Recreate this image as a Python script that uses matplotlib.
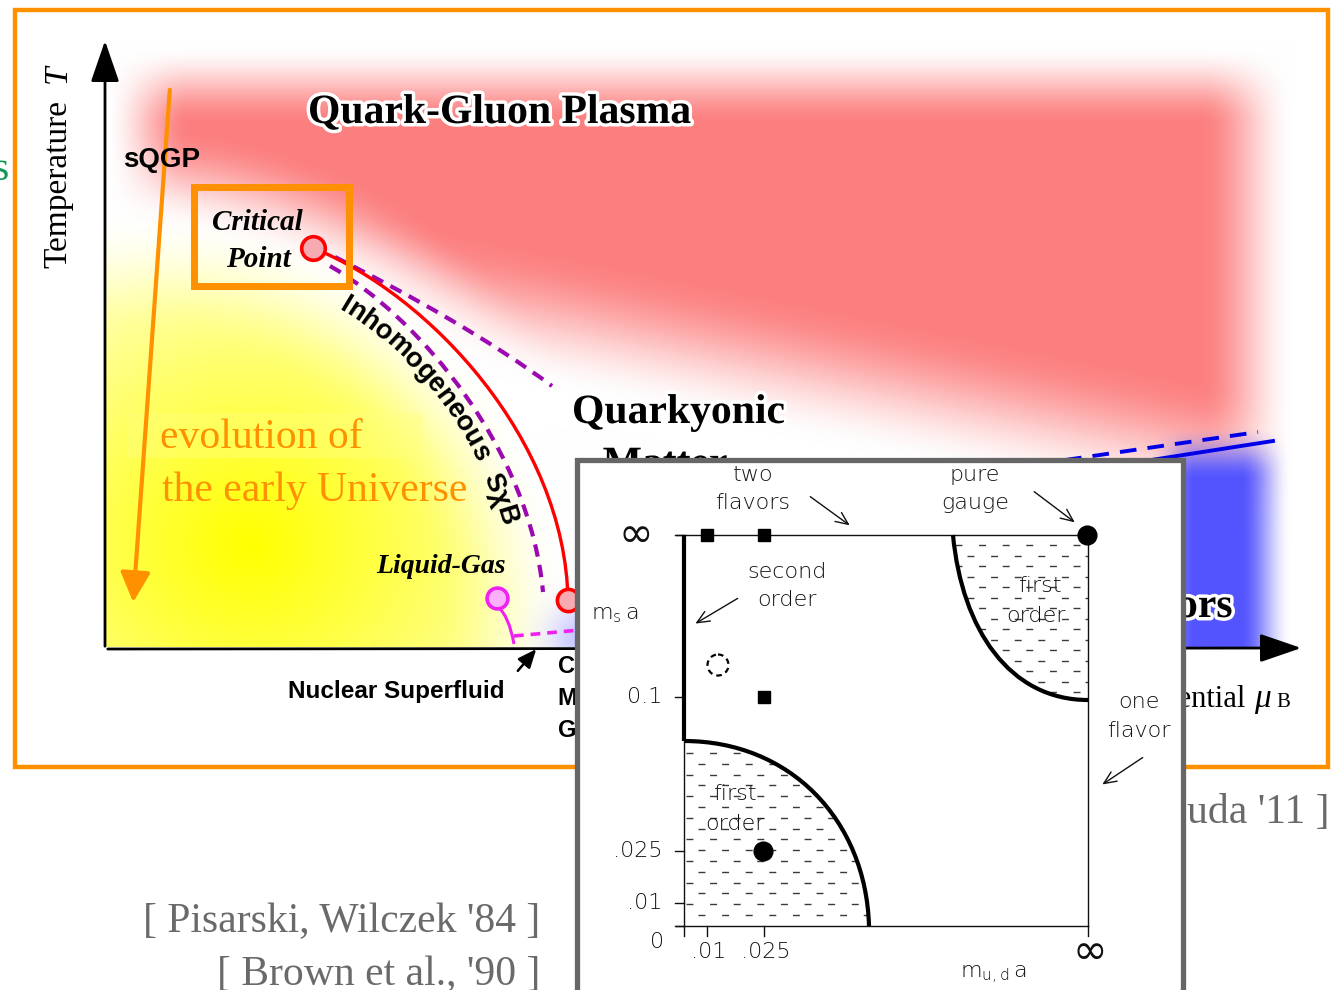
import numpy as np
import matplotlib.pyplot as plt
import matplotlib.patheffects as pe
from matplotlib.path import Path
from matplotlib.patches import PathPatch, Rectangle, Circle, FancyArrowPatch
from matplotlib.bezier import BezierSegment
from matplotlib.font_manager import FontProperties

plt.rcParams['lines.scale_dashes'] = False

W, H = 1334, 990

# ---- QCD phase diagram, drawn in pixel units (y grows downward) ----
origin = (105, 648)
t_axis_top = 38
mu_axis_end = 1304

crit_point = (313, 248)
chiral_line = [(313, 248), (430, 295), (565, 440), (568, 600)]
inhom_inner = [(330, 266), (420, 318), (530, 450), (543, 592)]
inhom_outer = [(335, 257), (410, 295), (490, 340), (552, 386)]
quarkyonic_end = (568, 600)
lg_point = (497, 598)
lg_line = [(498, 607), (509, 616), (514, 644)]
lg_dashed = [(514, 636), (580, 630)]
csc_solid = [(1100, 468), (1273, 441)]
csc_dashed = [(1010, 468), (1258, 432)]
universe_arrow = [(170, 87), (133, 605)]
crit_box = [(194, 187), (349, 286)]
superfluid_arrow = [(516, 673), (538, 647)]
label_baseline = [(338, 309), (408, 350), (478, 430), (505, 540)]

# ---- Columbia plot (inset) ----
col_left, col_right, col_top, col_bottom = 684, 1088, 535, 926
second_order_edge = [(684, 535), (684, 741)]
lower_first_order = [(684, 741), (790, 741), (866, 820), (869, 926)]
upper_first_order = [(953, 535), (962, 630), (1010, 700), (1088, 700)]
ms_tick_pos = [535, 697, 851, 903, 926]
ms_tick_lab = ['∞', '0.1', '.025', '.01', '0']
mud_tick_pos = [684, 707, 764, 1088]
mud_tick_lab = ['', '.01', '.025', '∞']
lattice_squares = [(707, 535), (764, 535), (764, 697)]
lattice_dots = [(763, 851), (1087, 535)]
open_point = (718, 665)

orange = '#ff9000'


def ramp(a, b, v):
    t = np.clip((v - a) / (b - a), 0, 1)
    return t * t * (3 - 2 * t)


def bez(ctrl):
    return Path(ctrl, [Path.MOVETO, Path.CURVE4, Path.CURVE4, Path.CURVE4])


fig = plt.figure(figsize=(W / 100, H / 100), dpi=100)
ax = fig.add_axes([0, 0, 1, 1])
ax.set_xlim(0, W)
ax.set_ylim(H, 0)
ax.axis('off')

# soft coloured background: QGP (red), hadrons (yellow), CSC (blue)
yy, xx = np.mgrid[0:H, 0:W] + 0.5
ell = ((xx - 115) / 455.0) ** 2 + ((yy - 640) / 435.0) ** 2
yb = 330 + 0.2 * (xx - 700)
w_red = (ramp(45, 125, yy) * ramp(104, 190, xx) * (1 - ramp(1200, 1295, xx))
         * (1 - ramp(yb - 50, yb + 90, yy)) * ramp(0.88, 1.4, ell))
d = np.sqrt(((xx - 250) / 300.0) ** 2 + ((yy - 545) / 280.0) ** 2)
w_yel = np.clip(1 - d / 1.3, 0, 1) ** 0.8 * (1 - ramp(0.5, 1.02, ell))
w_blue = ramp(1150, 1195, xx) * (1 - ramp(1240, 1292, xx)) * ramp(425, 480, yy)
w_blue += 0.35 * np.exp(-((xx - 585) ** 2 + (yy - 640) ** 2) / (2 * 25.0 ** 2))
inside = ((xx >= 106) & (yy <= 647)).astype(float)

img = np.ones((H, W, 3))
for w, c in [(w_red, (0.99, 0.50, 0.50)), (w_yel, (1.0, 1.0, 0.0)), (w_blue, (0.33, 0.33, 1.0))]:
    w = (np.clip(w, 0, 1) * inside)[..., None]
    img = img * (1 - w) + np.array(c) * w
ax.imshow(img, extent=(0, W, H, 0), zorder=0, interpolation='bilinear')

# highlight behind the orange label
ax.add_patch(Rectangle((128, 413), 295, 45, fc='#ffff80', ec='none', alpha=0.4, zorder=1))

# axes
for end in [(origin[0], t_axis_top), (mu_axis_end, origin[1])]:
    ax.add_patch(FancyArrowPatch((origin[0], origin[1] + 1), end,
                                 arrowstyle='-|>,head_length=1.6,head_width=0.55', mutation_scale=16,
                                 lw=2, color='black', zorder=3))

# phase boundaries
ax.add_patch(PathPatch(bez(inhom_inner), fc='none', ec='#9a0ab0', lw=3, ls=(0, (9, 6)), zorder=4))
ax.add_patch(PathPatch(bez(inhom_outer), fc='none', ec='#9a0ab0', lw=3, ls=(0, (9, 6)), zorder=4))
ax.add_patch(PathPatch(bez(chiral_line), fc='none', ec='red', lw=2.4, zorder=4))
lg_path = Path(lg_line, [Path.MOVETO, Path.CURVE3, Path.CURVE3])
ax.add_patch(PathPatch(lg_path, fc='none', ec='#f020f0', lw=2.2, zorder=4))
ax.plot(*zip(*lg_dashed), color='#f020f0', lw=2.6, ls=(0, (7, 5)), zorder=4)
ax.plot(*zip(*csc_solid), color='#0000e8', lw=2.8, zorder=4)
ax.plot(*zip(*csc_dashed), color='#0000e8', lw=2.8, ls=(0, (12, 8)), zorder=4)

ax.plot(*crit_point, 'o', ms=17, mfc='#f7aab2', mec='red', mew=2.6, zorder=5)
ax.plot(*quarkyonic_end, 'o', ms=16, mfc='#f7aab2', mec='red', mew=2.6, zorder=5)
ax.plot(*lg_point, 'o', ms=15, mfc='#fab0fa', mec='#f020f0', mew=2.6, zorder=5)

# evolution of the early Universe
ax.add_patch(FancyArrowPatch(*universe_arrow, arrowstyle='-|>,head_length=1.4,head_width=0.7',
                             mutation_scale=13, lw=3, color=orange, zorder=5))
ax.add_patch(Rectangle(crit_box[0], crit_box[1][0] - crit_box[0][0], crit_box[1][1] - crit_box[0][1],
                       fc='none', ec=orange, lw=5, zorder=5))

serif = 'Liberation Serif'
sans = 'Liberation Sans'
glow = [pe.withStroke(linewidth=5, foreground='white')]

ax.text(308, 123, 'Quark-Gluon Plasma', family=serif, weight='bold', fontsize=30,
        va='baseline', zorder=6, path_effects=glow)
ax.text(123, 167, 'sQGP', family=sans, weight='bold', fontsize=20, va='baseline', zorder=6)
ax.text(58, 268, 'Temperature', family=serif, fontsize=24, rotation=90, ha='center',
        va='bottom', zorder=6)
ax.text(58, 74, 'T', family=serif, style='italic', fontsize=24, rotation=90, ha='center',
        va='center', zorder=6)
ax.text(257, 230, 'Critical', family=serif, weight='bold', style='italic', fontsize=21,
        ha='center', va='baseline', zorder=6)
ax.text(258, 267, 'Point', family=serif, weight='bold', style='italic', fontsize=21,
        ha='center', va='baseline', zorder=6)
ax.text(441, 573, 'Liquid-Gas', family=serif, weight='bold', style='italic', fontsize=20,
        ha='center', va='baseline', zorder=6)
ax.text(396, 698, 'Nuclear Superfluid', family=sans, weight='bold', fontsize=17.5,
        ha='center', va='baseline', zorder=6)
ax.add_patch(FancyArrowPatch(*superfluid_arrow, arrowstyle='-|>,head_length=1.4,head_width=0.6',
                             mutation_scale=8, lw=1.8, color='black', zorder=6))
ax.text(160, 448, 'evolution of', family=serif, fontsize=30, color=orange, va='baseline', zorder=6)
ax.text(162, 501, 'the early Universe', family=serif, fontsize=30, color=orange,
        va='baseline', zorder=6)
ax.text(572, 423, 'Quarkyonic', family=serif, weight='bold', fontsize=30, va='baseline',
        zorder=6, path_effects=glow)
ax.text(665, 475, 'Matter', family=serif, weight='bold', fontsize=30, ha='center',
        va='baseline', zorder=6, path_effects=glow)
ax.text(1232, 617, 'Color Superconductors', family=serif, weight='bold', fontsize=30,
        ha='right', va='baseline', zorder=6, path_effects=glow)
for y, word in zip([673, 705, 737], ['CFL', 'Meson cond.', 'Gapless']):
    ax.text(558, y, word, family=sans, weight='bold', fontsize=17, va='baseline', zorder=6)
ax.text(1245, 707, 'Baryon Chemical Potential', family=serif, fontsize=22, ha='right',
        va='baseline', zorder=6)
ax.text(1254, 707, 'μ', family=serif, style='italic', fontsize=24, va='baseline', zorder=6)
ax.text(1276, 707, 'B', family=serif, fontsize=15, va='baseline', zorder=6)

# curved label along the transition line
renderer = fig.canvas.get_renderer()
lab_prop = FontProperties(family=sans, weight='bold', size=19.5)
seg = BezierSegment(np.array(label_baseline, float))
pts = seg(np.linspace(0, 1, 600))
arc = np.concatenate([[0], np.cumsum(np.hypot(*np.diff(pts, axis=0).T))])


def curved_text(word, s0):
    prev = 0.0
    for i, ch in enumerate(word):
        w_to = renderer.get_text_width_height_descent(word[:i + 1], lab_prop, ismath=False)[0]
        s = s0 + (prev + w_to) / 2
        prev = w_to
        k = min(np.searchsorted(arc, s), len(arc) - 2)
        dx, dy = pts[k + 1] - pts[k]
        ang = np.degrees(np.arctan2(-dy, dx))
        ax.text(pts[k][0], pts[k][1], ch, fontproperties=lab_prop, rotation=ang,
                rotation_mode='anchor', ha='center', va='baseline', zorder=6)
    return s0 + prev


end = curved_text('Inhomogeneous', 0)
curved_text('SχB', end + 16)

# citations
gray = '#6a6a6a'
ax.text(540, 932, "[ Pisarski, Wilczek '84 ]", family=serif, fontsize=30, color=gray,
        ha='right', va='baseline', zorder=6)
ax.text(540, 985, "[ Brown et al., '90 ]", family=serif, fontsize=30, color=gray,
        ha='right', va='baseline', zorder=6)
ax.text(1330, 822, "[ Fukushima, Hatsuda '11 ]", family=serif, fontsize=30, color=gray,
        ha='right', va='baseline', zorder=6)
ax.text(9, 180, 's', family=serif, fontsize=30, color='#14965a', ha='right', va='baseline', zorder=6)

# slide frame
ax.add_patch(Rectangle((15, 10), 1313, 757, fc='none', ec=orange, lw=3.2, zorder=7))

# ---- inset: Columbia plot ----
Z = 10
ax.add_patch(Rectangle((577, 460), 606, 560, fc='white', ec='#666666', lw=3.8, zorder=Z))
thin = dict(color='#111111', lw=1.0, zorder=Z + 1)
ax.plot([col_left - 8, col_right], [col_top, col_top], **thin)
ax.plot([col_right, col_right], [col_top, col_bottom], **thin)
ax.plot([col_left - 8, col_right], [col_bottom, col_bottom], **thin)
ax.plot([col_left, col_left], [col_bottom, col_top], **thin)
for y in ms_tick_pos:
    ax.plot([col_left - 9, col_left], [y, y], **thin)
for x in mud_tick_pos:
    ax.plot([x, x], [col_bottom, col_bottom + 10], **thin)
ax.plot(*zip(*second_order_edge), color='black', lw=3, zorder=Z + 2, solid_capstyle='butt')

low_patch = PathPatch(Path(lower_first_order + [(684, 926), (684, 741)],
                           [Path.MOVETO, Path.CURVE4, Path.CURVE4, Path.CURVE4, Path.LINETO, Path.CLOSEPOLY]),
                      fc='none', ec='none', zorder=Z + 1)
up_patch = PathPatch(Path(upper_first_order + [(1088, 535), (953, 535)],
                          [Path.MOVETO, Path.CURVE4, Path.CURVE4, Path.CURVE4, Path.LINETO, Path.CLOSEPOLY]),
                     fc='none', ec='none', zorder=Z + 1)
ax.add_patch(low_patch)
ax.add_patch(up_patch)
for patch, rows, x0 in [(low_patch, np.arange(753, 922, 10.8), 686),
                        (up_patch, np.arange(545, 698, 10.5), 955)]:
    for j, row in enumerate(rows):
        start = x0 + (12 if j % 2 else 0)
        lc = ax.hlines(row, start, start + 420, colors='#3a3a3a', lw=1.0,
                       linestyles=[(0, (5.0, 12.0))], zorder=Z + 1)
        lc.set_clip_path(patch)
ax.add_patch(PathPatch(bez(lower_first_order), fc='none', ec='black', lw=3, zorder=Z + 2))
ax.add_patch(PathPatch(bez(upper_first_order), fc='none', ec='black', lw=3, zorder=Z + 2))

for x, y in lattice_squares:
    ax.plot(x, y, 's', ms=8.5, color='black', zorder=Z + 3)
for x, y in lattice_dots:
    ax.plot(x, y, 'o', ms=13.5, color='black', zorder=Z + 3)
ax.add_patch(Circle(open_point, 10.5, fc='none', ec='black', lw=1.6, ls=(0, (4, 3)), zorder=Z + 3))

ins = dict(family='DejaVu Sans', weight='light', fontsize=16, color='#111111', zorder=Z + 3)
inf = dict(family='DejaVu Sans', weight='normal', fontsize=30, color='#111111', zorder=Z + 3)
for y, lab in zip(ms_tick_pos, ms_tick_lab):
    if lab == '0':
        ax.text(657, 942, lab, ha='center', va='center', **ins)
    elif lab == '∞':
        ax.text(636, 535, lab, ha='center', va='center', **inf)
    else:
        ax.text(662, y, lab, ha='right', va='center', **ins)
for x, lab in zip(mud_tick_pos, mud_tick_lab):
    if lab == '∞':
        ax.text(x + 2, 952, lab, ha='center', va='center', **inf)
    elif lab:
        ax.text(x + 2, 952, lab, ha='center', va='center', **ins)
ax.text(615, 615, r'$\mathregular{m_s\,a}$', ha='center', va='center', **ins)
ax.text(993, 975, r'$\mathregular{m_{u,d}\,a}$', ha='center', va='center', **ins)

for (x, y), lab in [((753, 475), 'two'), ((753, 503), 'flavors'), ((975, 475), 'pure'),
                    ((975, 503), 'gauge'), ((787, 572), 'second'), ((787, 600), 'order'),
                    ((1040, 586), 'first'), ((1036, 616), 'order'), ((1139, 702), 'one'),
                    ((1139, 731), 'flavor'), ((735, 794), 'first'), ((735, 824), 'order')]:
    ax.text(x, y, lab, ha='center', va='center', **ins)

for tail, head in [((808, 495), (852, 527)), ((1032, 490), (1077, 524)),
                   ((740, 597), (693, 625)), ((1145, 756), (1100, 786))]:
    ax.add_patch(FancyArrowPatch(tail, head, arrowstyle='->,head_length=0.5,head_width=0.22',
                                 mutation_scale=18, lw=1.0, color='#111111', zorder=Z + 3))

fig.savefig('out.png', dpi=100)
